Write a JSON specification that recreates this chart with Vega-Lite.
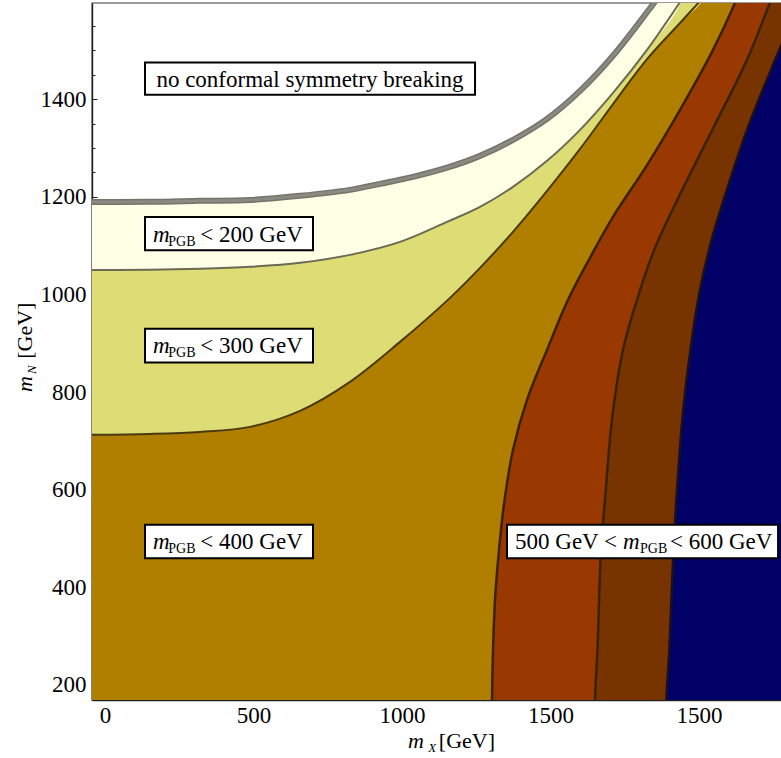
{
  "$schema": "https://vega.github.io/schema/vega-lite/v6.json",
  "width": 689,
  "height": 697,
  "autosize": "none",
  "padding": {"left": 92, "top": 3, "right": 0, "bottom": 58},
  "background": "white",
  "config": {
    "font": "Liberation Serif",
    "axis": {"labelFont": "Liberation Serif", "labelFontWeight": "normal"},
    "view": {"fill": "white", "stroke": "#7a7a7a", "strokeWidth": 1.5}
  },
  "datasets": {
    "curves": [
      {"c": "A", "x": -100, "y": 1189.6}, {"c": "A", "x": 151.5, "y": 1189.6}, {"c": "A", "x": 319.9, "y": 1191.6},
      {"c": "A", "x": 488.2, "y": 1193.4}, {"c": "A", "x": 656.6, "y": 1201.9}, {"c": "A", "x": 824.9, "y": 1214.2},
      {"c": "A", "x": 925.9, "y": 1226.5}, {"c": "A", "x": 1037, "y": 1240.8}, {"c": "A", "x": 1151.5, "y": 1259.5},
      {"c": "A", "x": 1262.6, "y": 1283.8}, {"c": "A", "x": 1373.7, "y": 1316.6}, {"c": "A", "x": 1488.2, "y": 1359.6},
      {"c": "A", "x": 1599.3, "y": 1417}, {"c": "A", "x": 1710.4, "y": 1489}, {"c": "A", "x": 1824.9, "y": 1578},
      {"c": "A", "x": 1870, "y": 1615}, {"c": "A", "x": 1900, "y": 1800, "e": 1}, {"c": "A", "x": 2400, "y": 1800, "e": 1},

      {"c": "B", "x": -100, "y": 1050.3}, {"c": "B", "x": 151.5, "y": 1050.3}, {"c": "B", "x": 319.9, "y": 1052.3},
      {"c": "B", "x": 488.2, "y": 1056.4}, {"c": "B", "x": 656.6, "y": 1064.6}, {"c": "B", "x": 824.9, "y": 1081},
      {"c": "B", "x": 993.3, "y": 1107.6}, {"c": "B", "x": 1151.5, "y": 1148.6}, {"c": "B", "x": 1262.6, "y": 1179.3},
      {"c": "B", "x": 1373.7, "y": 1220.3}, {"c": "B", "x": 1488.2, "y": 1273.6}, {"c": "B", "x": 1599.3, "y": 1337.1},
      {"c": "B", "x": 1710.4, "y": 1412.9}, {"c": "B", "x": 1824.9, "y": 1501}, {"c": "B", "x": 1942.7, "y": 1605},
      {"c": "B", "x": 1960, "y": 1800, "e": 1}, {"c": "B", "x": 2400, "y": 1800, "e": 1},

      {"c": "C", "x": -100, "y": 712.2}, {"c": "C", "x": 151.5, "y": 714.2}, {"c": "C", "x": 319.9, "y": 718.3},
      {"c": "C", "x": 488.2, "y": 728.6}, {"c": "C", "x": 656.6, "y": 761.4}, {"c": "C", "x": 824.9, "y": 820.8},
      {"c": "C", "x": 993.3, "y": 902.7}, {"c": "C", "x": 1161.6, "y": 992.9}, {"c": "C", "x": 1262.6, "y": 1054.4},
      {"c": "C", "x": 1373.7, "y": 1128.1}, {"c": "C", "x": 1488.2, "y": 1212}, {"c": "C", "x": 1599.3, "y": 1298},
      {"c": "C", "x": 1710.4, "y": 1390}, {"c": "C", "x": 1824.9, "y": 1482}, {"c": "C", "x": 1936, "y": 1556},
      {"c": "C", "x": 2020, "y": 1612}, {"c": "C", "x": 2030, "y": 1800, "e": 1}, {"c": "C", "x": 2400, "y": 1800, "e": 1},

      {"c": "D", "x": 1303, "y": 100}, {"c": "D", "x": 1303, "y": 169.3}, {"c": "D", "x": 1306.4, "y": 271.7},
      {"c": "D", "x": 1313.1, "y": 374.1}, {"c": "D", "x": 1326.6, "y": 476.6}, {"c": "D", "x": 1343, "y": 568.8},
      {"c": "D", "x": 1373.7, "y": 681.5}, {"c": "D", "x": 1420.9, "y": 783.9}, {"c": "D", "x": 1488.2, "y": 886.3},
      {"c": "D", "x": 1558.9, "y": 988.8}, {"c": "D", "x": 1633, "y": 1075}, {"c": "D", "x": 1710.4, "y": 1158.8},
      {"c": "D", "x": 1824.9, "y": 1265}, {"c": "D", "x": 1936, "y": 1378.1}, {"c": "D", "x": 2047.1, "y": 1501},
      {"c": "D", "x": 2121.2, "y": 1597.3}, {"c": "D", "x": 2155, "y": 1650},

      {"c": "E", "x": 1649.8, "y": 100}, {"c": "E", "x": 1649.8, "y": 169.3}, {"c": "E", "x": 1658, "y": 271.7},
      {"c": "E", "x": 1670, "y": 476.6}, {"c": "E", "x": 1683.5, "y": 580}, {"c": "E", "x": 1708, "y": 749.1},
      {"c": "E", "x": 1744.1, "y": 886.3}, {"c": "E", "x": 1791.2, "y": 988.8}, {"c": "E", "x": 1849, "y": 1091.2},
      {"c": "E", "x": 1936, "y": 1205}, {"c": "E", "x": 2047.1, "y": 1340}, {"c": "E", "x": 2161.6, "y": 1480.5},
      {"c": "E", "x": 2239.1, "y": 1597.3}, {"c": "E", "x": 2272.7, "y": 1644},

      {"c": "F", "x": 1889, "y": 100}, {"c": "F", "x": 1890, "y": 169.3}, {"c": "F", "x": 1900, "y": 271.7},
      {"c": "F", "x": 1914, "y": 476.6}, {"c": "F", "x": 1925.9, "y": 600}, {"c": "F", "x": 1946.1, "y": 760},
      {"c": "F", "x": 1971, "y": 886.3}, {"c": "F", "x": 2003.4, "y": 1010}, {"c": "F", "x": 2047.1, "y": 1122},
      {"c": "F", "x": 2104.4, "y": 1234.6}, {"c": "F", "x": 2161.6, "y": 1337.1}, {"c": "F", "x": 2249.2, "y": 1470.3},
      {"c": "F", "x": 2306.4, "y": 1552.2}, {"c": "F", "x": 2373.7, "y": 1644}
    ],
    "boxes": [
      {"x": 134.7, "x2": 1245.8, "y": 1475.3, "y2": 1408.8},
      {"x": 134.7, "x2": 700.3, "y": 1158.8, "y2": 1090.2},
      {"x": 134.7, "x2": 700.3, "y": 929.4, "y2": 860.7},
      {"x": 134.7, "x2": 700.3, "y": 527.8, "y2": 459.2},
      {"x": 1353.5, "x2": 2266.1, "y": 527.8, "y2": 459.2}
    ],
    "texts": [
      {"t": "no conformal symmetry breaking", "x": 690.2, "y": 1425.8, "p": "c"},
      {"t": "m", "x": 161.6, "y": 1108.2, "p": "i"},
      {"t": "PGB", "x": 213, "y": 1108.2, "p": "s"},
      {"t": "< 200 GeV", "x": 321, "y": 1108.2, "p": "r"},
      {"t": "m", "x": 161.6, "y": 879.4, "p": "i"},
      {"t": "PGB", "x": 213, "y": 879.4, "p": "s"},
      {"t": "< 300 GeV", "x": 321, "y": 879.4, "p": "r"},
      {"t": "m", "x": 161.6, "y": 477.8, "p": "i"},
      {"t": "PGB", "x": 213, "y": 477.8, "p": "s"},
      {"t": "< 400 GeV", "x": 321, "y": 477.8, "p": "r"},
      {"t": "500 GeV <", "x": 1380.5, "y": 477.8, "p": "r"},
      {"t": "m", "x": 1744.1, "y": 477.8, "p": "i"},
      {"t": "PGB", "x": 1801.3, "y": 477.8, "p": "s"},
      {"t": "< 600 GeV", "x": 1902.4, "y": 477.8, "p": "r"},
      {"t": "m", "x": 1020.2, "y": 70.9, "p": "xi"},
      {"t": "X", "x": 1088, "y": 70.9, "p": "xs"},
      {"t": "[GeV]", "x": 1124, "y": 70.9, "p": "xr"},
      {"t": "m", "x": -245.8, "y": 800, "p": "yi"},
      {"t": "N", "x": -245.8, "y": 837, "p": "ys"},
      {"t": "[GeV]", "x": -245.8, "y": 868, "p": "yr"}
    ]
  },
  "encoding": {
    "x": {
      "field": "x", "type": "quantitative", "title": null,
      "scale": {"domain": [-43.8, 2276], "nice": false, "zero": false},
      "axis": {
        "values": [0, 100, 200, 300, 400, 500, 600, 700, 800, 900, 1000, 1100, 1200, 1300, 1400, 1500, 1600, 1700, 1800, 1900, 2000, 2100, 2200],
        "format": "d",
        "labelExpr": "datum.value === 2000 ? '1500' : (datum.value % 500 === 0 ? datum.label : '')",
        "grid": false, "labelFont": "Liberation Serif", "labelFontWeight": "normal", "labelFontSize": 23, "labelColor": "black",
        "labelAngle": 0, "labelFlush": false, "labelOverlap": false, "labelPadding": 9,
        "domainColor": "#222", "domainWidth": 1.4, "tickColor": "#222", "tickWidth": 1,
        "tickSize": {"condition": {"test": "datum.value % 500 === 0", "value": -5}, "value": -3}
      }
    },
    "y": {
      "field": "y", "type": "quantitative", "title": null,
      "scale": {"domain": [169, 1597], "nice": false, "zero": false},
      "axis": {
        "values": [200, 250, 300, 350, 400, 450, 500, 550, 600, 650, 700, 750, 800, 850, 900, 950, 1000, 1050, 1100, 1150, 1200, 1250, 1300, 1350, 1400, 1450, 1500, 1550],
        "format": "d",
        "labelExpr": "datum.value % 200 === 0 ? datum.label : ''",
        "grid": false, "labelFont": "Liberation Serif", "labelFontWeight": "normal", "labelFontSize": 23, "labelColor": "black",
        "labelFlush": false, "labelOverlap": false, "labelPadding": 11,
        "domainColor": "#222", "domainWidth": 1.4, "tickColor": "#222", "tickWidth": 1,
        "tickSize": {"condition": {"test": "datum.value % 200 === 0", "value": -5}, "value": -3}
      }
    }
  },
  "layer": [
    {"data": {"name": "curves"}, "transform": [{"filter": "datum.c === 'A'"}],
     "mark": {"type": "area", "clip": true, "color": "#FFFFE6", "interpolate": "catmull-rom"},
     "encoding": {"y2": {"datum": 0}}},
    {"data": {"name": "curves"}, "transform": [{"filter": "datum.c === 'B'"}],
     "mark": {"type": "area", "clip": true, "color": "#DEDC74", "interpolate": "catmull-rom"},
     "encoding": {"y2": {"datum": 0}}},
    {"data": {"name": "curves"}, "transform": [{"filter": "datum.c === 'C'"}],
     "mark": {"type": "area", "clip": true, "color": "#B17F00", "interpolate": "catmull-rom"},
     "encoding": {"y2": {"datum": 0}}},
    {"data": {"name": "curves"}, "transform": [{"filter": "datum.c === 'D'"}],
     "mark": {"type": "area", "orient": "horizontal", "clip": true, "color": "#993800", "interpolate": "catmull-rom"},
     "encoding": {"x2": {"datum": 3000}}},
    {"data": {"name": "curves"}, "transform": [{"filter": "datum.c === 'E'"}],
     "mark": {"type": "area", "orient": "horizontal", "clip": true, "color": "#773400", "interpolate": "catmull-rom"},
     "encoding": {"x2": {"datum": 3000}}},
    {"data": {"name": "curves"}, "transform": [{"filter": "datum.c === 'F'"}],
     "mark": {"type": "area", "orient": "horizontal", "clip": true, "color": "#000066", "interpolate": "catmull-rom"},
     "encoding": {"x2": {"datum": 3000}}},
    {"data": {"name": "curves"}, "transform": [{"filter": "datum.c === 'A' && !datum.e"}],
     "mark": {"type": "line", "clip": true, "color": "#74746c", "strokeWidth": 6, "interpolate": "catmull-rom"},
     "encoding": {}},
    {"data": {"name": "curves"}, "transform": [{"filter": "datum.c === 'A' && !datum.e"}],
     "mark": {"type": "line", "clip": true, "color": "#8a8a82", "strokeWidth": 3, "interpolate": "catmull-rom"},
     "encoding": {}},
    {"data": {"name": "curves"}, "transform": [{"filter": "datum.c === 'B' && !datum.e"}],
     "mark": {"type": "line", "clip": true, "color": "#6a6a55", "strokeWidth": 2, "interpolate": "catmull-rom"},
     "encoding": {}},
    {"data": {"name": "curves"}, "transform": [{"filter": "datum.c === 'C' && !datum.e"}],
     "mark": {"type": "line", "clip": true, "color": "#4a3a12", "strokeWidth": 2, "interpolate": "catmull-rom"},
     "encoding": {}},
    {"data": {"name": "curves"}, "transform": [{"filter": "datum.c === 'D' || datum.c === 'E'"}],
     "mark": {"type": "line", "clip": true, "color": "#3a2208", "strokeWidth": 2.5, "interpolate": "catmull-rom"},
     "encoding": {"detail": {"field": "c"}, "order": {"field": "y", "type": "quantitative"}}},
    {"data": {"name": "curves"}, "transform": [{"filter": "datum.c === 'F'"}],
     "mark": {"type": "line", "clip": true, "color": "#1a1020", "strokeWidth": 2.5, "interpolate": "catmull-rom"},
     "encoding": {"order": {"field": "y", "type": "quantitative"}}},
    {"data": {"name": "boxes"},
     "mark": {"type": "rect", "fill": "white", "stroke": "black", "strokeWidth": 2},
     "encoding": {"x2": {"field": "x2"}, "y2": {"field": "y2"}}},
    {"data": {"name": "texts"}, "transform": [{"filter": "datum.p === 'c'"}],
     "mark": {"type": "text", "align": "center", "baseline": "alphabetic", "font": "Liberation Serif", "fontSize": 23, "color": "black"},
     "encoding": {"text": {"field": "t"}}},
    {"data": {"name": "texts"}, "transform": [{"filter": "datum.p === 'r'"}],
     "mark": {"type": "text", "align": "left", "baseline": "alphabetic", "font": "Liberation Serif", "fontSize": 23, "color": "black"},
     "encoding": {"text": {"field": "t"}}},
    {"data": {"name": "texts"}, "transform": [{"filter": "datum.p === 'i'"}],
     "mark": {"type": "text", "align": "left", "baseline": "alphabetic", "font": "Liberation Serif", "fontStyle": "italic", "fontSize": 23, "color": "black"},
     "encoding": {"text": {"field": "t"}}},
    {"data": {"name": "texts"}, "transform": [{"filter": "datum.p === 's'"}],
     "mark": {"type": "text", "align": "left", "baseline": "alphabetic", "font": "Liberation Serif", "fontSize": 14, "dy": 4, "color": "black"},
     "encoding": {"text": {"field": "t"}}},
    {"data": {"name": "texts"}, "transform": [{"filter": "datum.p === 'xr'"}],
     "mark": {"type": "text", "align": "left", "baseline": "alphabetic", "font": "Liberation Serif", "fontSize": 22, "color": "black"},
     "encoding": {"text": {"field": "t"}}},
    {"data": {"name": "texts"}, "transform": [{"filter": "datum.p === 'xi'"}],
     "mark": {"type": "text", "align": "left", "baseline": "alphabetic", "font": "Liberation Serif", "fontStyle": "italic", "fontSize": 22, "color": "black"},
     "encoding": {"text": {"field": "t"}}},
    {"data": {"name": "texts"}, "transform": [{"filter": "datum.p === 'xs'"}],
     "mark": {"type": "text", "align": "left", "baseline": "alphabetic", "font": "Liberation Serif", "fontStyle": "italic", "fontSize": 13, "dy": 4, "color": "black"},
     "encoding": {"text": {"field": "t"}}},
    {"data": {"name": "texts"}, "transform": [{"filter": "datum.p === 'yr'"}],
     "mark": {"type": "text", "align": "left", "baseline": "alphabetic", "angle": 270, "font": "Liberation Serif", "fontSize": 22, "color": "black"},
     "encoding": {"text": {"field": "t"}}},
    {"data": {"name": "texts"}, "transform": [{"filter": "datum.p === 'yi'"}],
     "mark": {"type": "text", "align": "left", "baseline": "alphabetic", "angle": 270, "font": "Liberation Serif", "fontStyle": "italic", "fontSize": 22, "color": "black"},
     "encoding": {"text": {"field": "t"}}},
    {"data": {"name": "texts"}, "transform": [{"filter": "datum.p === 'ys'"}],
     "mark": {"type": "text", "align": "left", "baseline": "alphabetic", "angle": 270, "font": "Liberation Serif", "fontStyle": "italic", "fontSize": 13, "dy": 4, "color": "black"},
     "encoding": {"text": {"field": "t"}}}
  ]
}
